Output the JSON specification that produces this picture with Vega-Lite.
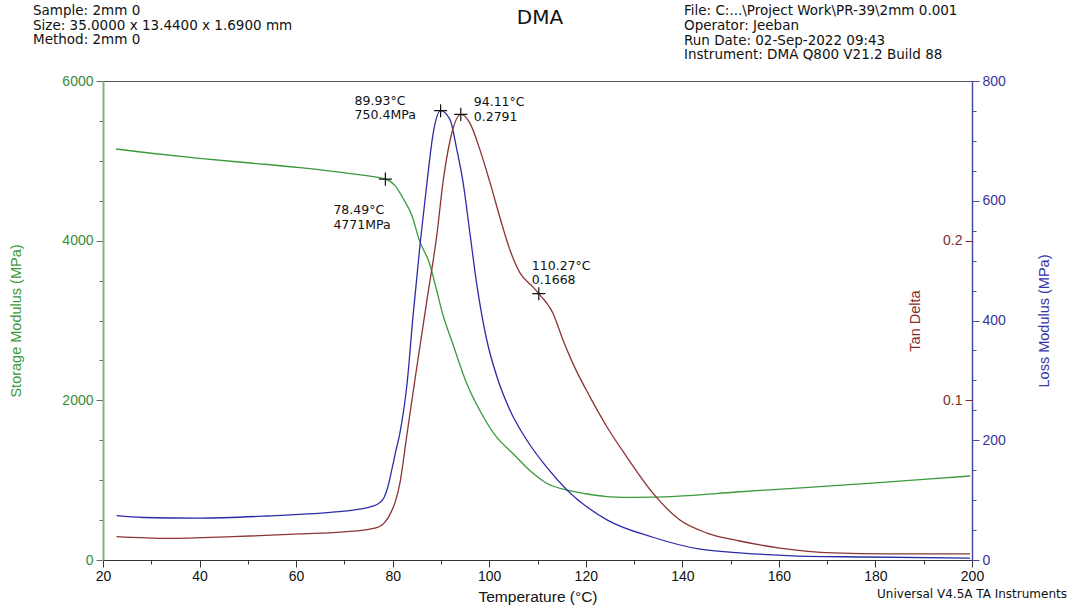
{
  "$schema": "https://vega.github.io/schema/vega-lite/v6.json",
  "width": 869,
  "height": 479,
  "autosize": {"type": "none"},
  "padding": {"left": 103, "top": 81, "right": 101, "bottom": 47},
  "background": "white",
  "config": {
    "font": "Liberation Sans",
    "view": {"stroke": "#555555", "strokeWidth": 1},
    "axis": {"grid": false, "labelFont": "Liberation Sans", "titleFont": "Liberation Sans", "titleFontWeight": "normal", "labelFlush": false, "labelOverlap": false}
  },
  "datasets": {
    "storage": [
      {"T": 22.7, "v": 5148}, {"T": 30, "v": 5095}, {"T": 40, "v": 5030}, {"T": 50.5, "v": 4973},
      {"T": 60.8, "v": 4915}, {"T": 71.2, "v": 4840}, {"T": 78.49, "v": 4771}, {"T": 80.5, "v": 4690},
      {"T": 82.0, "v": 4547}, {"T": 84.1, "v": 4296}, {"T": 85.5, "v": 4008}, {"T": 87.6, "v": 3720},
      {"T": 89.1, "v": 3382}, {"T": 90.3, "v": 3094}, {"T": 92.4, "v": 2718}, {"T": 95.3, "v": 2217},
      {"T": 98.0, "v": 1879}, {"T": 101.5, "v": 1541}, {"T": 104.8, "v": 1340}, {"T": 108.3, "v": 1127},
      {"T": 111.8, "v": 965}, {"T": 116.0, "v": 877}, {"T": 120, "v": 830}, {"T": 124.3, "v": 795},
      {"T": 128, "v": 785}, {"T": 133.8, "v": 787}, {"T": 140, "v": 802}, {"T": 151.3, "v": 852},
      {"T": 160.5, "v": 889}, {"T": 170, "v": 925}, {"T": 180.0, "v": 965}, {"T": 190, "v": 1010},
      {"T": 199.6, "v": 1052}
    ],
    "loss": [
      {"T": 22.8, "v": 74}, {"T": 28.3, "v": 71}, {"T": 40.1, "v": 70}, {"T": 54.0, "v": 73.5},
      {"T": 67.6, "v": 80}, {"T": 72.5, "v": 84}, {"T": 75.5, "v": 89}, {"T": 77.2, "v": 95},
      {"T": 78.2, "v": 104}, {"T": 79.0, "v": 122}, {"T": 79.8, "v": 150}, {"T": 80.6, "v": 180},
      {"T": 81.5, "v": 212}, {"T": 83.0, "v": 296}, {"T": 84.2, "v": 406},
      {"T": 85.7, "v": 529}, {"T": 87.1, "v": 630}, {"T": 88.4, "v": 713}, {"T": 89.93, "v": 750.4},
      {"T": 91.9, "v": 735}, {"T": 93.3, "v": 685}, {"T": 94.6, "v": 630}, {"T": 96.0, "v": 546},
      {"T": 97.5, "v": 456}, {"T": 99.5, "v": 367}, {"T": 101.6, "v": 306}, {"T": 104.3, "v": 250},
      {"T": 107.8, "v": 200}, {"T": 111.9, "v": 155}, {"T": 116.1, "v": 117}, {"T": 124.4, "v": 67},
      {"T": 133.9, "v": 38}, {"T": 143.7, "v": 18}, {"T": 151.9, "v": 12}, {"T": 162.9, "v": 7},
      {"T": 178.2, "v": 5}, {"T": 199.6, "v": 3}
    ],
    "tan": [
      {"T": 22.8, "v": 0.0146}, {"T": 33.3, "v": 0.0135}, {"T": 46.9, "v": 0.0146}, {"T": 60.8, "v": 0.0163},
      {"T": 70.5, "v": 0.0178}, {"T": 75.0, "v": 0.0192}, {"T": 77.2, "v": 0.0208}, {"T": 78.5, "v": 0.0240},
      {"T": 79.6, "v": 0.0295}, {"T": 80.6, "v": 0.0370},
      {"T": 81.5, "v": 0.0482}, {"T": 83.0, "v": 0.0795}, {"T": 85.0, "v": 0.1208}, {"T": 87.1, "v": 0.1628},
      {"T": 89.2, "v": 0.2047}, {"T": 90.4, "v": 0.2360}, {"T": 91.9, "v": 0.2629}, {"T": 94.11, "v": 0.2791},
      {"T": 96.0, "v": 0.2736}, {"T": 98.1, "v": 0.2567}, {"T": 100.2, "v": 0.2360}, {"T": 102.2, "v": 0.2147},
      {"T": 104.3, "v": 0.1941}, {"T": 106.4, "v": 0.1797}, {"T": 109.1, "v": 0.1709}, {"T": 110.27, "v": 0.1668},
      {"T": 113.2, "v": 0.1546}, {"T": 115.3, "v": 0.1377}, {"T": 117.3, "v": 0.1233}, {"T": 120.9, "v": 0.1020},
      {"T": 124.4, "v": 0.0833}, {"T": 128.5, "v": 0.0645}, {"T": 133.9, "v": 0.0419}, {"T": 139.5, "v": 0.0250},
      {"T": 145.1, "v": 0.0169}, {"T": 151.9, "v": 0.0119}, {"T": 160.2, "v": 0.0075}, {"T": 171.2, "v": 0.0044},
      {"T": 182.4, "v": 0.0038}, {"T": 199.6, "v": 0.0038}
    ],
    "storageNote": [{"T": 78.49, "v": 4771, "label": "78.49°C\n4771MPa"}],
    "lossNote": [{"T": 89.93, "v": 750.4, "label": "89.93°C\n750.4MPa"}],
    "tanNote": [
      {"T": 94.11, "v": 0.2791, "label": "94.11°C\n0.2791", "k": "peak"},
      {"T": 110.27, "v": 0.1668, "label": "110.27°C\n0.1668", "k": "shoulder"}
    ]
  },
  "layer": [
    {
      "encoding": {
        "x": {"field": "T", "type": "quantitative", "scale": {"domain": [20, 200], "nice": false, "zero": false},
          "axis": {"title": "Temperature (°C)", "values": [20,25,30,35,40,45,50,55,60,65,70,75,80,85,90,95,100,105,110,115,120,125,130,135,140,145,150,155,160,165,170,175,180,185,190,195,200],
            "labelExpr": "datum.value % 20 === 0 ? datum.label : ''",
            "tickSize": {"condition": {"test": "datum.value % 20 === 0", "value": 7}, "value": 4},
            "domainColor": "#333333", "tickColor": "#333333", "labelColor": "#111111", "labelFontSize": 14, "labelPadding": 2,
            "titleFontSize": 15.5, "titleColor": "#111111", "titlePadding": 6}},
        "y": {"field": "v", "type": "quantitative", "scale": {"domain": [0, 6000], "nice": false},
          "axis": {"title": "Storage Modulus (MPa)", "orient": "left", "values": [0,500,1000,1500,2000,2500,3000,3500,4000,4500,5000,5500,6000],
            "labelExpr": "datum.value % 2000 === 0 ? datum.label : ''",
            "format": "d",
            "tickSize": {"condition": {"test": "datum.value % 2000 === 0", "value": 7}, "value": 4},
            "domainColor": "#7db87d", "domainWidth": 2, "tickColor": "#666666", "labelColor": "#3a8a3a", "labelFontSize": 14, "labelPadding": 3,
            "titleColor": "#3a9a3a", "titleFontSize": 14.5, "titlePadding": 38}}
      },
      "layer": [
        {"data": {"name": "storage"}, "mark": {"type": "line", "color": "#3c9a3c", "strokeWidth": 1.3, "interpolate": "monotone"}},
        {"data": {"name": "storageNote"}, "mark": {"type": "point", "shape": "M-1,0L1,0M0,-1L0,1", "filled": false, "size": 170, "stroke": "#111111", "strokeWidth": 1.2, "opacity": 1}},
        {"data": {"name": "storageNote"}, "mark": {"type": "text", "align": "left", "baseline": "top", "dx": -52, "dy": 25, "font": "DejaVu Sans", "fontSize": 12.5, "lineHeight": 14.5, "lineBreak": "\n", "color": "#111111"}, "encoding": {"text": {"field": "label"}}}
      ]
    },
    {
      "encoding": {
        "x": {"field": "T", "type": "quantitative", "scale": {"domain": [20, 200], "nice": false, "zero": false}},
        "y": {"field": "v", "type": "quantitative", "scale": {"domain": [0, 800], "nice": false},
          "axis": {"title": "Loss Modulus (MPa)", "orient": "right", "values": [0,50,100,150,200,250,300,350,400,450,500,550,600,650,700,750,800],
            "labelExpr": "datum.value % 200 === 0 ? datum.label : ''",
            "tickSize": {"condition": {"test": "datum.value % 200 === 0", "value": 7}, "value": 4},
            "domainColor": "#4a4aa8", "domainWidth": 1.5, "tickColor": "#4a4aa8", "labelColor": "#3535a0", "labelFontSize": 14, "labelPadding": 3,
            "titleColor": "#3535a8", "titleFontSize": 14.5, "titlePadding": 32, "titleAngle": 270, "titleBaseline": "top"}}
      },
      "layer": [
        {"data": {"name": "loss"}, "mark": {"type": "line", "color": "#2c2ca8", "strokeWidth": 1.3, "interpolate": "monotone"}},
        {"data": {"name": "lossNote"}, "mark": {"type": "point", "shape": "M-1,0L1,0M0,-1L0,1", "filled": false, "size": 170, "stroke": "#111111", "strokeWidth": 1.2, "opacity": 1}},
        {"data": {"name": "lossNote"}, "mark": {"type": "text", "align": "left", "baseline": "top", "dx": -86, "dy": -16, "font": "DejaVu Sans", "fontSize": 12.5, "lineHeight": 14.5, "lineBreak": "\n", "color": "#111111"}, "encoding": {"text": {"field": "label"}}}
      ]
    },
    {
      "encoding": {
        "x": {"field": "T", "type": "quantitative", "scale": {"domain": [20, 200], "nice": false, "zero": false}},
        "y": {"field": "v", "type": "quantitative", "scale": {"domain": [0, 0.3], "nice": false},
          "axis": {"title": "Tan Delta", "orient": "left", "offset": -869, "values": [0.1, 0.2], "format": ".1f",
            "domain": false, "tickSize": 7, "tickColor": "#7a3030", "labelColor": "#7a3030", "labelFontSize": 14, "labelPadding": 3,
            "titleColor": "#8c2a2a", "titleFontSize": 14.5, "titlePadding": 20}}
      },
      "layer": [
        {"data": {"name": "tan"}, "mark": {"type": "line", "color": "#8c3434", "strokeWidth": 1.3, "interpolate": "monotone"}},
        {"data": {"name": "tanNote"}, "mark": {"type": "point", "shape": "M-1,0L1,0M0,-1L0,1", "filled": false, "size": 170, "stroke": "#111111", "strokeWidth": 1.2, "opacity": 1}},
        {"data": {"name": "tanNote"}, "transform": [{"filter": "datum.k === 'peak'"}], "mark": {"type": "text", "align": "left", "baseline": "top", "dx": 13, "dy": -18, "font": "DejaVu Sans", "fontSize": 12.5, "lineHeight": 14.5, "lineBreak": "\n", "color": "#111111"}, "encoding": {"text": {"field": "label"}}},
        {"data": {"name": "tanNote"}, "transform": [{"filter": "datum.k === 'shoulder'"}], "mark": {"type": "text", "align": "left", "baseline": "top", "dx": -7, "dy": -34, "font": "DejaVu Sans", "fontSize": 12.5, "lineHeight": 14.5, "lineBreak": "\n", "color": "#111111"}, "encoding": {"text": {"field": "label"}}}
      ]
    },
    {
      "data": {"values": [{}]},
      "layer": [
        {"mark": {"type": "text", "align": "left", "baseline": "middle", "font": "DejaVu Sans", "fontSize": 13.5, "lineHeight": 14.6, "color": "#111111"},
          "encoding": {"x": {"value": -70}, "y": {"value": -70}, "text": {"value": ["Sample: 2mm 0", "Size:  35.0000 x 13.4400 x 1.6900 mm", "Method: 2mm 0"]}}},
        {"mark": {"type": "text", "align": "left", "baseline": "middle", "font": "DejaVu Sans", "fontSize": 13.5, "lineHeight": 14.8, "color": "#111111"},
          "encoding": {"x": {"value": 581}, "y": {"value": -70}, "text": {"value": ["File: C:...\\Project Work\\PR-39\\2mm 0.001", "Operator: Jeeban", "Run Date: 02-Sep-2022 09:43", "Instrument: DMA Q800 V21.2 Build 88"]}}},
        {"mark": {"type": "text", "align": "center", "baseline": "middle", "font": "DejaVu Sans", "fontSize": 20, "color": "#111111"},
          "encoding": {"x": {"value": 437}, "y": {"value": -63}, "text": {"value": "DMA"}}},
        {"mark": {"type": "text", "align": "right", "baseline": "middle", "font": "DejaVu Sans", "fontSize": 12, "color": "#111111"},
          "encoding": {"x": {"value": 964}, "y": {"value": 513}, "text": {"value": "Universal V4.5A TA Instruments"}}}
      ]
    }
  ],
  "resolve": {"scale": {"y": "independent"}, "axis": {"y": "independent"}}
}
